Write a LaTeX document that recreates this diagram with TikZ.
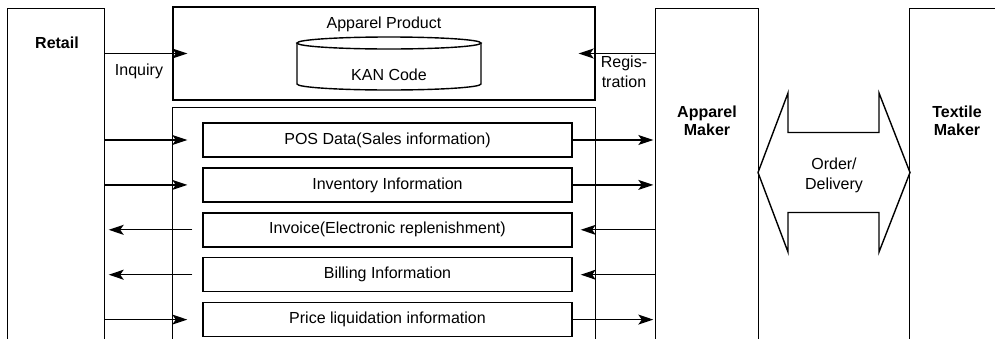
\documentclass[tikz,border=0pt]{standalone}
\usepackage{fontspec}
\setmainfont{Liberation Sans}
\usepackage{tikz}
\usepackage{tkz-euclide}
\usetikzlibrary{arrows.meta,positioning}

\tikzset{
  texto/.style={font=\fontsize{16}{18}\selectfont, inner sep=0pt, align=center},
  titulo/.style={texto, font=\fontsize{16}{18}\selectfont\bfseries},
  coluna/.style={inner sep=0pt, draw=none},
  caixa/.style={texto, draw, minimum width=369pt, minimum height=34pt},
  seta/.style={line width=1.3pt, -{Stealth[length=15pt,width=10pt,inset=3.5pt]}},
}

\begin{document}
\begin{tikzpicture}[x=1pt, y=-1pt, line width=1.4pt] %eixo y para baixo, em pixels

\useasboundingbox (0,0) rectangle (995,338);

%As tres colunas (abertas embaixo)
%---------------------------------------------------
\node[coluna, minimum width=96pt, minimum height=329pt] (retail) at (56,173.5) {};
\node[coluna, minimum width=102pt, minimum height=329pt] (apparel) at (707,173.5) {};
\node[coluna, minimum width=86pt, minimum height=329pt] (textile) at (953,173.5) {};
\draw (retail.south west) |- (retail.north east) -- (retail.south east);
\draw (apparel.south west) |- (apparel.north east) -- (apparel.south east);
\draw (textile.south west) |- (textile.north east);
\node[titulo] (retailtxt) at (57,43) {Retail};
\node[titulo] (appareltxt) at (707,121) {Apparel\\Maker};
\node[titulo] (textiletxt) at (957,121) {Textile\\Maker};
%---------------------------------------------------

%Caixa do produto com o cilindro do codigo KAN
%---------------------------------------------------
\node[draw, inner sep=0pt, minimum width=422pt, minimum height=93pt] (produto) at (384,53.5) {};
\node[texto, below=10pt] (produtotxt) at (produto.north) {Apparel Product};
\node[texto] (kan) at (389,75) {KAN Code};
\draw (389,43) ellipse [x radius=92, y radius=6];
\draw (297,43) -- (297,84) arc [start angle=180, end angle=0, x radius=92, y radius=6] -- (481,43);
%---------------------------------------------------

%Sistema com as cinco informacoes trocadas
%---------------------------------------------------
\node[coluna, minimum width=422pt, minimum height=230pt] (sistema) at (384,223) {};
\draw (sistema.south west) |- (sistema.north east) -- (sistema.south east);

\node[caixa] (pos) at (387.5,140) {POS Data(Sales information)};
\node[caixa, below=9.5pt of pos] (inventario) {Inventory Information};
\node[caixa, below=9.5pt of inventario] (fatura) {Invoice(Electronic replenishment)};
\node[caixa, below=9.5pt of fatura] (cobranca) {Billing Information};
\node[caixa, below=9.5pt of cobranca] (preco) {Price liquidation information};
%---------------------------------------------------

%Setas do lado do varejo
%---------------------------------------------------
\draw[seta] (retail.east |- produto.west) -- ([xshift=15pt]produto.west);
\node[texto] (consulta) at (139,71) {Inquiry};
\draw[seta] (retail.east |- pos.west) -- ([xshift=-15pt]pos.west);
\draw[seta] (retail.east |- inventario.west) -- ([xshift=-15pt]inventario.west);
\draw[seta, shorten >=4pt] ([xshift=-10pt]fatura.west) -- (retail.east |- fatura.west);
\draw[seta, shorten >=4pt] ([xshift=-10pt]cobranca.west) -- (retail.east |- cobranca.west);
\draw[seta] (retail.east |- preco.west) -- ([xshift=-15pt]preco.west);
%---------------------------------------------------

%Setas do lado do fabricante de vestuario
%---------------------------------------------------
\draw[seta] (apparel.west |- produto.east) -- ([xshift=-17pt]produto.east);
\node[texto, font=\fontsize{16}{20}\selectfont] (registro) at (624,72) {Regis-\\tration};
\draw[seta, shorten >=2pt] (pos.east) -- (apparel.west |- pos.east);
\draw[seta, shorten >=2pt] (inventario.east) -- (apparel.west |- inventario.east);
\draw[seta, shorten >=8pt] (apparel.west |- fatura.east) -- (fatura.east);
\draw[seta, shorten >=8pt] (apparel.west |- cobranca.east) -- (cobranca.east);
\draw[seta, shorten >=2pt] (preco.east) -- (apparel.west |- preco.east);
%---------------------------------------------------

%Seta dupla entre os dois fabricantes
%---------------------------------------------------
\tkzDefPoints{
758/172.5/A,
788/93/B,
788/132.5/C,
879/132.5/D,
879/93/E,
910/172.5/F,
879/252/G,
879/212.5/H,
788/212.5/I,
788/252/J}
\draw (A) -- (B) -- (C) -- (D) -- (E) -- (F) -- (G) -- (H) -- (I) -- (J) -- cycle;
\node[texto, font=\fontsize{16}{20}\selectfont] (pedido) at (834,175) {Order/\\Delivery};
%---------------------------------------------------

\end{tikzpicture}
\end{document}
